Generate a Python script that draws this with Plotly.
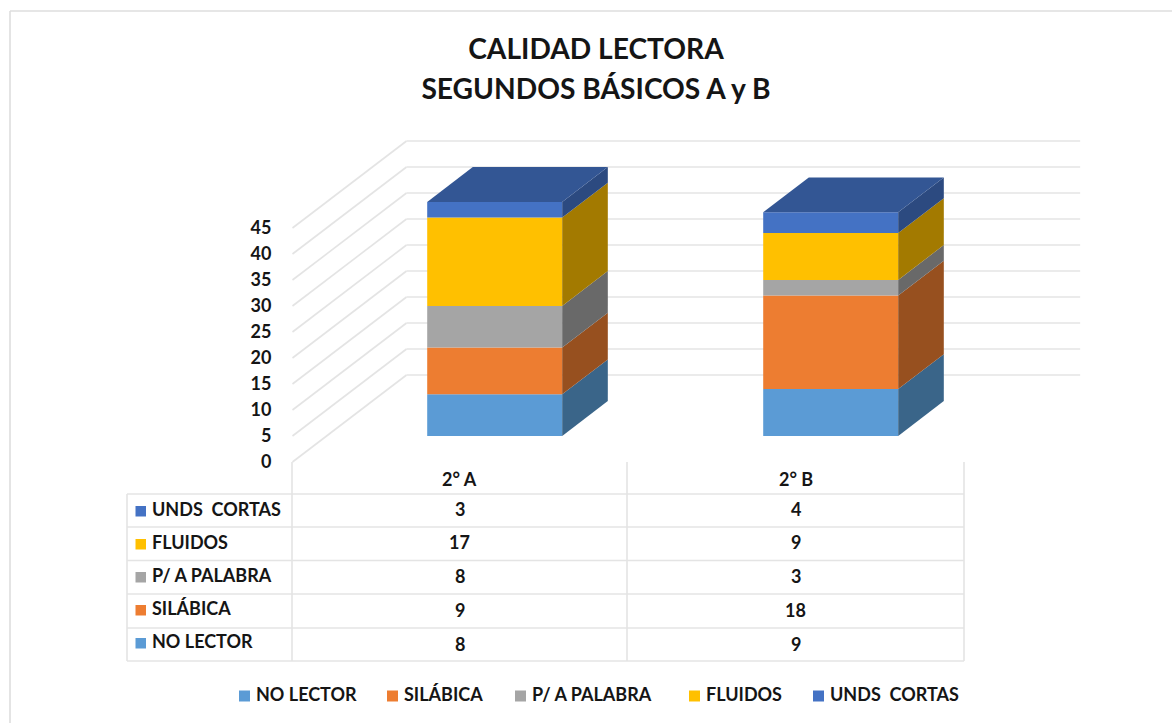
import plotly.graph_objects as go

W, H = 1172, 723
categories = ["2° A", "2° B"]
series_names = ["NO LECTOR", "SILÁBICA", "P/ A PALABRA", "FLUIDOS", "UNDS  CORTAS"]
no_lector = [8, 9]
silabica = [9, 18]
p_a_palabra = [8, 3]
fluidos = [17, 9]
unds_cortas = [3, 4]
series_values = [no_lector, silabica, p_a_palabra, fluidos, unds_cortas]
y_ticks = [0, 5, 10, 15, 20, 25, 30, 35, 40, 45]

front_colors = ["#5B9BD5", "#ED7D31", "#A5A5A5", "#FFC000", "#4472C4"]
side_colors = ["#3A6589", "#97501F", "#696969", "#A37A00", "#2C4A80"]
top_color = "#335694"
grid_color = "#E4E4E4"
text_color = "#151515"
font_family = "Lato"

# scales
PX_X, PX_Y = 336, 5.2
X0_PX, Y0_PX = 460.5, 462
DEPTH_X, DEPTH_Y = 114 / PX_X, 87 / PX_Y
BAR_W = 135 / PX_X
D_FRONT, D_BACK = 0.3, 0.7


def fx(p):
    return p / W


def fy(p):
    return 1 - p / H


fig = go.Figure()
shapes = []
annotations = []


def hline(x0, y0, x1, y1, color=grid_color, width=1.6):
    shapes.append(dict(type="line", xref="paper", yref="paper", x0=fx(x0), y0=fy(y0), x1=fx(x1), y1=fy(y1),
                       line=dict(color=color, width=width), layer="below"))


# gridlines on the walls of the 3D box
for t in y_ticks:
    xs = [-0.5, -0.5 + DEPTH_X, 1.505 + DEPTH_X]
    ys = [t, t + DEPTH_Y, t + DEPTH_Y]
    for i in range(2):
        shapes.append(dict(type="line", xref="x", yref="y", x0=xs[i], y0=ys[i], x1=xs[i + 1], y1=ys[i + 1],
                           line=dict(color=grid_color, width=1.6), layer="below"))

# stacked columns
bases = [[0.0 for _ in categories]]
for vals in series_values:
    bases.append([b + v for b, v in zip(bases[-1], vals)])

for s, (name, vals) in enumerate(zip(series_names, series_values)):
    fig.add_trace(go.Bar(
        x=[i + D_FRONT * DEPTH_X for i in range(len(categories))],
        y=vals,
        base=[b + D_FRONT * DEPTH_Y for b in bases[s]],
        width=BAR_W,
        name=name,
        marker=dict(color=front_colors[s], line=dict(width=0)),
        showlegend=False,
        hoverinfo="name+y",
    ))

for s, vals in enumerate(series_values):
    for i in range(len(categories)):
        right = i + D_FRONT * DEPTH_X + BAR_W / 2
        b0 = bases[s][i] + D_FRONT * DEPTH_Y
        b1 = bases[s + 1][i] + D_FRONT * DEPTH_Y
        dx = (D_BACK - D_FRONT) * DEPTH_X
        dy = (D_BACK - D_FRONT) * DEPTH_Y
        fig.add_trace(go.Scatter(
            x=[right, right + dx, right + dx, right, right],
            y=[b0, b0 + dy, b1 + dy, b1, b0],
            mode="lines", fill="toself", fillcolor=side_colors[s],
            line=dict(width=0, color=side_colors[s]), showlegend=False, hoverinfo="skip",
        ))

for i in range(len(categories)):
    left = i + D_FRONT * DEPTH_X - BAR_W / 2
    right = left + BAR_W
    t = bases[-1][i] + D_FRONT * DEPTH_Y
    dx = (D_BACK - D_FRONT) * DEPTH_X
    dy = (D_BACK - D_FRONT) * DEPTH_Y
    fig.add_trace(go.Scatter(
        x=[left, left + dx, right + dx, right, left],
        y=[t, t + dy, t + dy, t, t],
        mode="lines", fill="toself", fillcolor=top_color,
        line=dict(width=0, color=top_color), showlegend=False, hoverinfo="skip",
    ))

# outer chart frame
hline(10, H, 10, 11, "#DEDEDE", 1.6)
hline(10, 11, W, 11, "#DEDEDE", 1.6)

# data table
col_x = [127, 292, 627, 964]
row_y = [494, 527, 560.5, 594, 628, 661]
for y in row_y:
    hline(col_x[0], y, col_x[-1], y)
hline(col_x[0], row_y[0], col_x[0], row_y[-1])
for x in col_x[1:]:
    hline(x, 462, x, row_y[-1])


def text(x, y, s, anchor="center", xref="paper", size=18):
    annotations.append(dict(text=s, x=x, y=fy(y), xref=xref, yref="paper", showarrow=False,
                            xanchor=anchor, yanchor="middle",
                            font=dict(family=font_family, size=size, color=text_color, weight="bold")))


def swatch(x0, y0, size, color):
    shapes.append(dict(type="rect", xref="paper", yref="paper", x0=fx(x0), x1=fx(x0 + size),
                       y0=fy(y0), y1=fy(y0 + size), fillcolor=color, line=dict(width=0), layer="above"))


for i, c in enumerate(categories):
    text(i - 0.002, 478.5, c, xref="x")

table_order = [4, 3, 2, 1, 0]
label_y = [509, 542, 575, 608, 641]
value_y = [508.5, 541.5, 575.5, 609.5, 643.5]
for r, s in enumerate(table_order):
    swatch(135.5, label_y[r] - 3, 10.5, front_colors[s])
    text(fx(150), label_y[r], series_names[s].replace("  ", "\u00a0\u00a0"), anchor="left")
    for i in range(len(categories)):
        text(i - 0.002, value_y[r], str(series_values[s][i]), xref="x")

# legend
legend_swatch_x = [239, 387, 515, 689, 813]
for s, name in enumerate(series_names):
    swatch(legend_swatch_x[s], 690.5, 11, front_colors[s])
    text(fx(legend_swatch_x[s] + 15), 693.5, name.replace("  ", "\u00a0\u00a0"), anchor="left")

title_lines = ["CALIDAD LECTORA", "SEGUNDOS BÁSICOS A y B"]
title_text = "<br>".join(f'<span style="font-size:28.2px">{t}</span>' for t in title_lines)

fig.update_layout(
    width=W, height=H,
    autosize=False,
    margin=dict(l=0, r=0, t=0, b=0),
    paper_bgcolor="white", plot_bgcolor="rgba(0,0,0,0)",
    barmode="overlay",
    showlegend=False,
    title=dict(text=title_text, x=596 / W, xanchor="center",
               y=1 - 59 / H, yanchor="middle",
               font=dict(family=font_family, size=30.8, color=text_color, weight="bold")),
    xaxis=dict(range=[-X0_PX / PX_X, (W - X0_PX) / PX_X], visible=False, fixedrange=True),
    yaxis=dict(range=[-(H - Y0_PX) / PX_Y, Y0_PX / PX_Y], anchor="free", position=292 / W, side="left",
               tickvals=y_ticks, ticks="outside", ticklen=17, tickcolor="rgba(0,0,0,0)",
               showgrid=False, zeroline=False, showline=False, fixedrange=True,
               tickfont=dict(family=font_family, size=18, color=text_color, weight="bold")),
    shapes=shapes,
    annotations=annotations,
)

fig.write_html("out.html", config={"displayModeBar": False},
               post_script="document.body.style.margin='0';document.body.style.overflow='hidden';")
